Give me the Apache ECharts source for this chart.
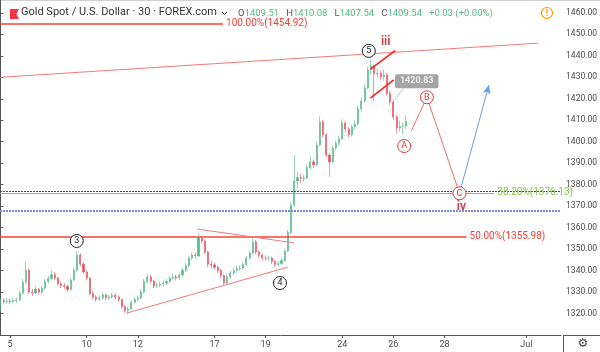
<!DOCTYPE html>
<html>
<head>
<meta charset="utf-8">
<script src="https://cdn.jsdelivr.net/npm/echarts@6/dist/echarts.min.js"></script>
<style>
html, body { margin: 0; padding: 0; background: #fff; }
#chart { width: 600px; height: 352px; }
</style>
</head>
<body>
<div id="chart"></div>
<script>
// 3-hour candles, one day = 8 slots. [open, close, low, high]
var candles = [
    [1324.5,1326.0,1320.8,1327.0],[1326.0,1325.5,1324.2,1327.0],[1325.5,1325.8,1324.6,1327.2],[1325.8,1325.5,1324.3,1326.9],[1325.5,1326.0,1324.8,1327.3],[1326.0,1326.3,1325.0,1327.6],[1326.3,1329.5,1325.6,1330.8],[1329.5,1334.6,1328.8,1336.0],
    [1334.6,1340.2,1333.9,1344.3],[1340.2,1330.0,1329.0,1341.0],[1330.0,1329.6,1328.2,1331.5],[1329.6,1331.4,1329.0,1332.6],[1331.4,1330.0,1328.9,1332.0],[1330.0,1331.9,1329.2,1333.0],[1331.9,1334.9,1331.0,1336.0],[1334.9,1336.3,1334.0,1337.5],
    [1336.3,1338.1,1335.5,1340.0],[1338.1,1336.5,1335.4,1339.2],[1336.5,1333.9,1333.0,1337.0],[1333.9,1333.0,1331.9,1334.8],[1333.0,1332.6,1331.5,1334.2],[1332.6,1331.2,1330.0,1333.5],[1331.2,1335.6,1330.6,1336.5],[1335.6,1340.2,1335.0,1341.5],
    [1340.2,1347.2,1339.6,1348.8],[1347.2,1343.0,1342.0,1348.0],[1343.0,1339.3,1338.5,1344.0],[1339.3,1336.5,1335.5,1340.2],[1336.5,1329.3,1328.5,1337.0],[1329.3,1327.7,1326.5,1330.5],[1327.7,1326.7,1325.5,1328.6],[1326.7,1327.2,1325.8,1328.3],
    [1327.2,1328.6,1326.4,1329.8],[1328.6,1327.4,1326.3,1329.4],[1327.4,1327.7,1326.2,1328.8],[1327.7,1328.5,1326.8,1329.6],[1328.5,1327.7,1326.6,1329.3],[1327.7,1326.5,1325.4,1328.5],[1326.5,1323.2,1322.3,1327.0],[1323.2,1321.4,1320.4,1324.0],
    [1321.4,1322.1,1320.1,1323.2],[1322.1,1325.3,1321.5,1326.2],[1325.3,1326.7,1324.6,1327.8],[1326.7,1327.2,1325.8,1328.4],[1327.2,1330.0,1326.6,1331.2],[1330.0,1334.9,1329.4,1336.0],[1334.9,1337.0,1334.0,1338.4],[1337.0,1335.1,1334.2,1338.0],
    [1335.1,1332.8,1331.8,1335.8],[1332.8,1333.1,1331.9,1334.2],[1333.1,1333.7,1332.2,1334.8],[1333.7,1334.2,1332.8,1335.3],[1334.2,1334.9,1333.3,1336.0],[1334.9,1336.5,1334.0,1337.6],[1336.5,1337.0,1335.4,1338.3],[1337.0,1336.5,1335.3,1338.0],
    [1336.5,1337.9,1335.8,1339.0],[1337.9,1340.2,1337.2,1341.3],[1340.2,1342.3,1339.4,1343.5],[1342.3,1345.8,1341.6,1347.0],[1345.8,1347.2,1344.8,1348.5],[1347.2,1346.8,1345.5,1348.3],[1346.8,1355.2,1346.0,1357.6],[1355.2,1353.8,1352.6,1356.4],
    [1353.8,1348.6,1347.6,1354.6],[1348.6,1343.0,1341.6,1349.2],[1343.0,1342.6,1341.0,1344.4],[1342.6,1341.6,1340.4,1343.8],[1341.6,1340.0,1338.8,1342.4],[1340.0,1337.7,1336.6,1340.8],[1337.7,1334.2,1333.3,1338.2],[1334.2,1337.0,1333.6,1338.0],
    [1337.0,1338.8,1336.2,1339.8],[1338.8,1340.0,1337.8,1341.2],[1340.0,1341.0,1339.0,1342.2],[1341.0,1341.2,1339.8,1342.4],[1341.2,1342.8,1340.4,1344.0],[1342.8,1345.8,1342.0,1347.0],[1345.8,1348.2,1345.0,1349.4],[1348.2,1353.3,1347.5,1355.4],
    [1353.3,1348.6,1347.6,1354.2],[1348.6,1347.2,1346.0,1349.4],[1347.2,1345.8,1344.6,1348.0],[1345.8,1345.7,1344.4,1347.0],[1345.7,1345.8,1344.5,1346.9],[1345.8,1344.2,1343.0,1346.6],[1344.2,1342.8,1341.6,1345.0],[1342.8,1343.2,1341.9,1344.3],
    [1343.2,1344.7,1342.4,1345.8],[1344.7,1349.1,1344.0,1350.2],[1349.1,1357.7,1348.5,1359.0],[1357.7,1370.5,1357.0,1372.0],[1370.5,1381.7,1369.8,1393.8],[1381.7,1383.3,1378.6,1386.0],[1383.3,1382.9,1380.8,1385.0],[1382.9,1383.1,1381.4,1384.6],
    [1383.1,1388.0,1382.4,1389.4],[1388.0,1390.6,1387.0,1393.2],[1390.6,1389.3,1387.8,1391.8],[1389.3,1398.5,1388.6,1400.2],[1398.5,1409.2,1397.8,1411.8],[1409.2,1403.2,1402.0,1410.2],[1403.2,1393.8,1392.6,1404.0],[1393.8,1390.6,1383.7,1394.8],
    [1390.6,1397.1,1389.8,1398.4],[1397.1,1399.3,1396.0,1400.6],[1399.3,1401.3,1398.2,1402.8],[1401.3,1408.7,1400.6,1410.4],[1408.7,1405.9,1404.6,1409.6],[1405.9,1403.2,1402.2,1406.8],[1403.2,1406.9,1402.4,1408.0],[1406.9,1408.3,1405.6,1410.0],
    [1408.3,1415.3,1407.6,1416.8],[1415.3,1419.0,1414.2,1420.6],[1419.0,1425.1,1418.2,1426.8],[1425.1,1433.4,1424.4,1435.0],[1433.4,1435.3,1431.0,1438.2],[1435.3,1431.6,1419.0,1436.0],[1431.6,1432.0,1429.6,1434.0],[1432.0,1430.2,1428.6,1433.2],
    [1430.2,1431.1,1428.4,1433.6],[1431.1,1422.5,1421.4,1432.0],[1422.5,1418.5,1417.0,1423.6],[1418.5,1411.5,1410.2,1419.6],[1411.5,1406.4,1403.8,1412.4],[1406.4,1407.1,1404.6,1409.8],[1407.1,1407.3,1403.6,1408.6],[1407.3,1409.54,1405.8,1412.4]
];

var dayTickSlots = [3, 27, 43, 67, 83, 107, 123, 139, 164.6];
var dayTickLabels = ['5', '10', '12', '17', '19', '24', '26', '28', 'Jul'];
var priceTicks = [1320, 1330, 1340, 1350, 1360, 1370, 1380, 1390, 1400, 1410, 1420, 1430, 1440, 1450, 1460];

var xMin = -0.125, xMax = 175.5;
var lastPrice = 1409.54;
var ohlc = ['1409.51', '1410.08', '1407.54', '1409.54', '+0.03 (+0.00%)'];

// drawing tools, in (slot, price)
var fibNames = ['100.00%', '50.00%', '38.20%'];
var fibPrices = [1454.92, 1355.98, 1376.13];
var fibEnds = [69.7, 145.9, 154.6];
var dottedLevels = [1376.9, 1367.7];
var resistLine = [[-0.125, 1430.0], [168.3, 1445.9]];
var triangleLines = [[[61.6, 1359.35], [91.9, 1352.9]], [[39.5, 1320.2], [90.0, 1341.6]]];
var channelLines = [[[115.8, 1433.8], [123.6, 1442.4]], [[115.8, 1420.3], [123.1, 1428.8]]];
var wavePath = [[128.6, 1405.0], [133.5, 1420.7], [143.7, 1376.0]];
var forecastArrow = [[143.7, 1376.0], [152.9, 1426.4]];
var tagPointer = [[123.4, 1419.5], [126.2, 1425.05]];
var priceTag = ['1420.83', 130.3, 1428.2];
var waveCircles = [['3', 23.9, 1353.8], ['4', 87.5, 1334.2], ['5', 115.3, 1442.3]];
var abcCircles = [['A', 126.4, 1398.0], ['B', 133.5, 1420.7], ['C', 143.7, 1376.0]];
var degreeLabels = [['iii', 120.6, 1446.5], ['iv', 144.3, 1369.4]];

var UP = '#53b987', DOWN = '#eb4d5c';
var FONT = 'Roboto, sans-serif';

var chart = echarts.init(document.getElementById('chart'));

var candleData = candles.map(function (c, i) { return [i].concat(c); });

function seg(a, b, style, endExtra) {
    var to = { coord: b };
    if (endExtra) { for (var k in endExtra) to[k] = endExtra[k]; }
    return [{ coord: a, lineStyle: style }, to];
}

var lines = [];
fibPrices.forEach(function (p, k) {
    var col = k === 2 ? '#8bc34a' : '#f44336';
    lines.push([{
        coord: [xMin, p],
        lineStyle: { color: col, width: k === 2 ? 1.2 : 1.5, type: 'solid' },
        label: {
            show: true, position: 'end', distance: 3,
            formatter: fibNames[k] + '(' + p.toFixed(2) + ')',
            color: col, fontSize: 10, fontFamily: FONT
        }
    }, { coord: [fibEnds[k], p] }]);
});
lines.push({ yAxis: dottedLevels[0], lineStyle: { color: '#3342c4', width: 1, type: [2, 1] } });
lines.push({ yAxis: dottedLevels[1], lineStyle: { color: '#7e86e6', width: 2, type: [2, 1] } });
lines.push(seg(resistLine[0], resistLine[1], { color: '#f47a7a', width: 1, type: 'solid' }));
triangleLines.forEach(function (l) {
    lines.push(seg(l[0], l[1], { color: '#f47a7a', width: 1, type: 'solid' }));
});
channelLines.forEach(function (l) {
    lines.push(seg(l[0], l[1], { color: '#ff1a1a', width: 1.5, type: 'solid' }));
});
lines.push(seg(wavePath[0], wavePath[1], { color: '#f46a6a', width: 1, type: 'solid' }));
lines.push(seg(wavePath[1], wavePath[2], { color: '#f46a6a', width: 1, type: 'solid' }));
lines.push(seg(forecastArrow[0], forecastArrow[1], { color: '#6a9fe6', width: 1, type: 'solid' },
    { symbol: 'arrow', symbolSize: [6, 9] }));
lines.push(seg(tagPointer[0], tagPointer[1], { color: '#c4c4c4', width: 1, type: 'solid' }));
lines.push({
    yAxis: lastPrice,
    lineStyle: { opacity: 0 },
    label: {
        show: true, position: 'end', distance: 0,
        formatter: lastPrice.toFixed(2),
        backgroundColor: UP, color: '#fff', fontSize: 9, fontFamily: FONT,
        padding: [2, 4, 2, 4]
    }
});

var option = {
    animation: false,
    backgroundColor: '#fff',
    grid: { left: 0, right: 37, top: 0, bottom: 17 },
    xAxis: {
        type: 'value',
        min: xMin,
        max: xMax,
        splitLine: { show: false },
        axisLine: { show: true, onZero: false, lineStyle: { color: '#555' } },
        axisTick: { show: true, customValues: dayTickSlots, length: 3, lineStyle: { color: '#555' } },
        axisLabel: {
            customValues: dayTickSlots,
            margin: 5,
            color: '#4a4a4a',
            fontSize: 9,
            fontFamily: FONT,
            formatter: function (v) {
                var k = dayTickSlots.indexOf(v);
                return k < 0 ? '' : dayTickLabels[k];
            }
        }
    },
    yAxis: {
        type: 'value',
        position: 'right',
        min: 1310,
        max: 1466,
        scale: true,
        splitLine: { show: false },
        axisLine: { show: true, lineStyle: { color: '#555' } },
        axisTick: { show: true, customValues: priceTicks, length: 3, lineStyle: { color: '#555' } },
        axisLabel: {
            customValues: priceTicks,
            margin: 5,
            color: '#4a4a4a',
            fontSize: 8.5,
            fontFamily: FONT,
            formatter: function (v) { return v.toFixed(2); }
        }
    },
    series: [
        {
            type: 'candlestick',
            data: candleData,
            barWidth: 1.6,
            itemStyle: {
                color: UP, color0: DOWN,
                borderColor: UP, borderColor0: DOWN,
                borderWidth: 0.6
            },
            markLine: {
                silent: true,
                symbol: 'none',
                animation: false,
                z: 3,
                label: { show: false },
                emphasis: { disabled: true },
                data: lines
            },
            z: 2
        },
        {
            type: 'scatter',
            z: 20,
            silent: true,
            symbol: 'circle',
            symbolSize: 13,
            data: waveCircles.map(function (w) { return { value: [w[1], w[2]], name: w[0] }; }),
            itemStyle: { color: '#fff', borderColor: '#222', borderWidth: 1, opacity: 1 },
            label: { show: true, position: 'inside', formatter: '{b}', color: '#222', fontSize: 9, fontFamily: FONT }
        },
        {
            type: 'scatter',
            z: 20,
            silent: true,
            symbol: 'circle',
            symbolSize: 13,
            data: abcCircles.map(function (w) { return { value: [w[1], w[2]], name: w[0] }; }),
            itemStyle: { color: '#fff', borderColor: '#e53935', borderWidth: 1, opacity: 1 },
            label: { show: true, position: 'inside', formatter: '{b}', color: '#e53935', fontSize: 9, fontFamily: FONT }
        },
        {
            type: 'scatter',
            z: 21,
            silent: true,
            symbolSize: 0,
            data: degreeLabels.map(function (w) { return { value: [w[1], w[2]], name: w[0] }; }),
            label: { show: true, position: 'inside', formatter: '{b}', color: '#b71c1c', fontSize: 12, fontWeight: 'bold', fontFamily: FONT }
        },
        {
            type: 'scatter',
            z: 21,
            silent: true,
            symbolSize: 0,
            data: [{ value: [priceTag[1], priceTag[2]], name: priceTag[0] }],
            label: {
                show: true, position: 'inside', formatter: '{b}',
                color: '#fff', fontSize: 9, fontWeight: 'bold', fontFamily: FONT,
                backgroundColor: '#8f8f8f', padding: [3, 5, 2, 5], borderRadius: 2
            }
        }
    ],
    graphic: [
        { type: 'line', shape: { x1: 0, y1: 0.5, x2: 600, y2: 0.5 }, style: { stroke: '#d0d0d0', lineWidth: 1 } },
        { type: 'line', shape: { x1: 563.5, y1: 335, x2: 563.5, y2: 352 }, style: { stroke: '#555', lineWidth: 1 } },
        { type: 'line', shape: { x1: 563, y1: 335.5, x2: 600, y2: 335.5 }, style: { stroke: '#555', lineWidth: 1 } },
        { type: 'polygon', shape: { points: [[10, 9], [19, 9], [16.5, 14], [19, 19], [10, 19]] }, style: { fill: '#f23645' } },
        {
            type: 'text', left: 21, top: 7,
            style: { text: 'Gold Spot / U.S. Dollar · 30 · FOREX.com', fill: '#333', fontSize: 11, fontFamily: FONT }
        },
        { type: 'polyline', shape: { points: [[222, 12], [224.5, 14.5], [227, 12]] }, style: { stroke: '#333', lineWidth: 1, fill: null } },
        {
            type: 'text', left: 238, top: 9,
            style: {
                text: '{l|O}{v|' + ohlc[0] + '}   {l|H}{v|' + ohlc[1] + '}   {l|L}{v|' + ohlc[2] + '}   {l|C}{v|' + ohlc[3] + '}   {v|' + ohlc[4] + '}',
                fontSize: 9.5, fontFamily: FONT,
                rich: {
                    l: { fill: '#555', fontSize: 9.5, fontFamily: FONT },
                    v: { fill: UP, fontSize: 9.5, fontFamily: FONT }
                }
            }
        },
        { type: 'circle', shape: { cx: 547, cy: 13, r: 5.5 }, style: { fill: '#fff', stroke: '#ff9800', lineWidth: 1.2 } },
        { type: 'text', x: 547, y: 13.5, style: { text: '!', fill: '#ff9800', fontSize: 9, fontWeight: 'bold', align: 'center', verticalAlign: 'middle', fontFamily: FONT } },
        { type: 'text', x: 583, y: 344, style: { text: '⚙', fill: '#444', fontSize: 12, align: 'center', verticalAlign: 'middle', fontFamily: 'DejaVu Sans' } }
    ]
};

chart.setOption(option);
</script>
</body>
</html>
